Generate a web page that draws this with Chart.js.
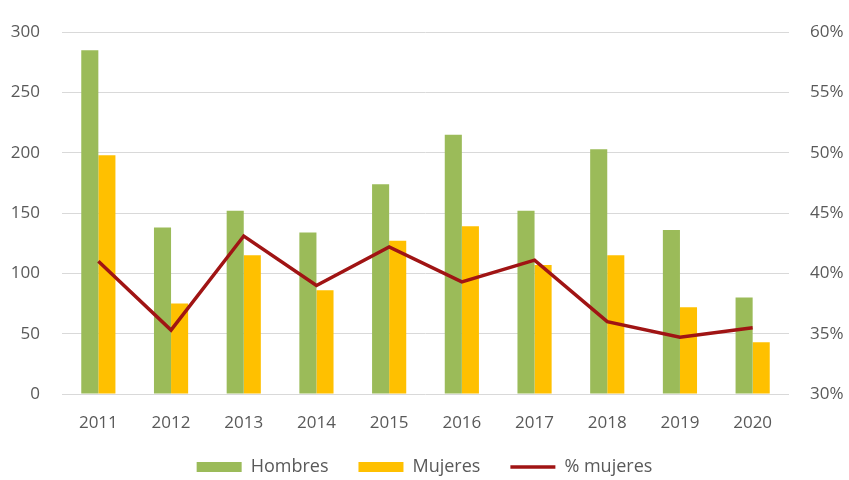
<!DOCTYPE html>
<html>
<head>
<meta charset="utf-8">
<script src="https://cdn.jsdelivr.net/npm/chart.js@4/dist/chart.umd.min.js"></script>
<style>
    html, body { margin: 0; padding: 0; background: #ffffff; }
    #wrap { width: 849px; height: 480px; }
</style>
</head>
<body>
<div id="wrap"><canvas id="grafico"></canvas></div>
<script>
// datos
const anios = ["2011", "2012", "2013", "2014", "2015", "2016", "2017", "2018", "2019", "2020"];
const hombres = [285, 138, 152, 134, 174, 215, 152, 203, 136, 80];
const mujeres = [198, 75, 115, 86, 127, 139, 107, 115, 72, 43];
const pctMujeres = [41.0, 35.3, 43.1, 39.0, 42.2, 39.3, 41.1, 36.0, 34.7, 35.5];

const gris = "#595959";
const fuente = { family: "'Open Sans', sans-serif", size: 17 };
const fuenteLeyenda = { family: "'Open Sans', sans-serif", size: 18 };

Chart.defaults.font.family = fuente.family;
Chart.defaults.color = gris;

// la leyenda usa mucho espacio entre elementos; se recorta su alto y se sube un poco
const leyendaAjustada = {
    id: "leyendaAjustada",
    beforeUpdate: function (chart) {
        const lg = chart.legend;
        if (!lg || lg.ajustada) return;
        const fit = lg.fit;
        lg.fit = function () {
            fit.call(this);
            this.height = 41;
        };
        const draw = lg.draw;
        lg.draw = function () {
            this.top -= 11;
            draw.call(this);
            this.top += 11;
        };
        lg.ajustada = true;
    }
};

const ctx = document.getElementById("grafico").getContext("2d");
new Chart(ctx, {
    type: "bar",
    data: {
        labels: anios,
        datasets: [
            {
                label: "Hombres",
                data: hombres,
                backgroundColor: "#9BBB59",
                yAxisID: "y",
                order: 1
            },
            {
                label: "Mujeres",
                data: mujeres,
                backgroundColor: "#FFC000",
                yAxisID: "y",
                order: 1
            },
            {
                type: "line",
                label: "% mujeres",
                data: pctMujeres,
                borderColor: "#A01414",
                backgroundColor: "#A01414",
                borderWidth: 3.5,
                pointRadius: 0,
                tension: 0,
                yAxisID: "y1",
                order: 0
            }
        ]
    },
    options: {
        responsive: true,
        maintainAspectRatio: false,
        animation: false,
        layout: { padding: { left: 0, right: 0, top: 25, bottom: 0 } },
        datasets: {
            bar: { categoryPercentage: 0.47, barPercentage: 1.0 }
        },
        scales: {
            x: {
                grid: { display: false, drawTicks: false },
                border: { display: false },
                ticks: { font: fuente, color: gris, padding: 19 },
                afterFit: function (scale) { scale.height = 45; }
            },
            y: {
                position: "left",
                min: 0,
                max: 300,
                ticks: { stepSize: 50, font: fuente, color: gris, padding: 22 },
                grid: { color: "#D9D9D9", lineWidth: 1, drawTicks: false },
                border: { display: false },
                afterFit: function (scale) { scale.width = 62; }
            },
            y1: {
                position: "right",
                min: 30,
                max: 60,
                ticks: {
                    stepSize: 5,
                    font: fuente,
                    color: gris,
                    padding: 21,
                    callback: function (v) { return v + "%"; }
                },
                grid: { display: false, drawTicks: false },
                border: { display: false },
                afterFit: function (scale) { scale.width = 60; }
            }
        },
        plugins: {
            tooltip: { enabled: false },
            legend: {
                position: "bottom",
                labels: {
                    font: fuenteLeyenda,
                    color: gris,
                    boxWidth: 45,
                    boxHeight: 10,
                    padding: 30,
                    usePointStyle: true,
                    pointStyleWidth: 45,
                    sort: function (a, b) { return a.datasetIndex - b.datasetIndex; },
                    generateLabels: function (chart) {
                        const items = Chart.defaults.plugins.legend.labels.generateLabels(chart);
                        items.forEach(function (it) {
                            if (it.datasetIndex === 2) {
                                it.pointStyle = "line";
                                it.lineWidth = 3.5;
                            } else {
                                it.pointStyle = "rect";
                                it.lineWidth = 0;
                            }
                        });
                        return items;
                    }
                }
            }
        }
    },
    plugins: [leyendaAjustada]
});
</script>
</body>
</html>
